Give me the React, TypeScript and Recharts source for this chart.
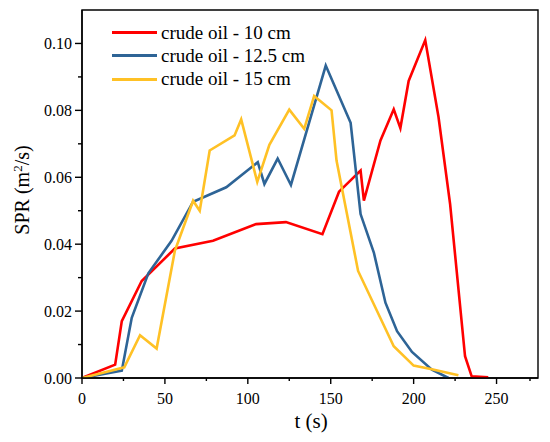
import { LineChart, Line, XAxis, YAxis, ReferenceArea } from 'recharts';

// spreading rate vs time
const oil10 = [
  { t: 0, spr: 0 }, { t: 20, spr: 0.004 }, { t: 24, spr: 0.017 }, { t: 36, spr: 0.029 },
  { t: 56, spr: 0.0387 }, { t: 79, spr: 0.041 }, { t: 105, spr: 0.046 }, { t: 123, spr: 0.0466 },
  { t: 145, spr: 0.043 }, { t: 155, spr: 0.0557 }, { t: 168, spr: 0.062 }, { t: 170, spr: 0.053 },
  { t: 180, spr: 0.071 }, { t: 188, spr: 0.0803 }, { t: 192, spr: 0.0747 }, { t: 197, spr: 0.0888 },
  { t: 207, spr: 0.101 }, { t: 215, spr: 0.078 }, { t: 222, spr: 0.052 }, { t: 231, spr: 0.0065 },
  { t: 235, spr: 0.0005 }, { t: 245, spr: 0.0002 },
];

const oil125 = [
  { t: 0, spr: 0 }, { t: 24, spr: 0.0022 }, { t: 30, spr: 0.018 }, { t: 40, spr: 0.0313 },
  { t: 54, spr: 0.041 }, { t: 67, spr: 0.0527 }, { t: 87, spr: 0.057 }, { t: 106, spr: 0.0645 },
  { t: 110, spr: 0.058 }, { t: 118, spr: 0.0656 }, { t: 126, spr: 0.0577 }, { t: 147, spr: 0.0934 },
  { t: 162, spr: 0.0763 }, { t: 168, spr: 0.049 }, { t: 176, spr: 0.0375 }, { t: 183, spr: 0.0225 },
  { t: 190, spr: 0.014 }, { t: 199, spr: 0.0078 }, { t: 211, spr: 0.0025 }, { t: 221, spr: 0 },
];

const oil15 = [
  { t: 0, spr: 0 }, { t: 25.5, spr: 0.0032 }, { t: 35, spr: 0.0128 }, { t: 45, spr: 0.0088 },
  { t: 56, spr: 0.038 }, { t: 67, spr: 0.053 }, { t: 71, spr: 0.05 }, { t: 77, spr: 0.068 },
  { t: 92, spr: 0.0725 }, { t: 96, spr: 0.0773 }, { t: 105.7, spr: 0.0586 }, { t: 113, spr: 0.0697 },
  { t: 125, spr: 0.0802 }, { t: 134, spr: 0.0745 }, { t: 140, spr: 0.0843 }, { t: 150.5, spr: 0.08 },
  { t: 153.5, spr: 0.065 }, { t: 166.5, spr: 0.032 }, { t: 188, spr: 0.0095 }, { t: 200, spr: 0.0037 },
  { t: 211, spr: 0.0026 }, { t: 227, spr: 0.0008 },
];

const series = [
  { name: 'crude oil - 10 cm', data: oil10, color: '#ff0000' },
  { name: 'crude oil - 12.5 cm', data: oil125, color: '#2e6496' },
  { name: 'crude oil - 15 cm', data: oil15, color: '#ffc125' },
];

const xTicks = [0, 25, 50, 75, 100, 125, 150, 175, 200, 225, 250, 275];
const yTicks = [0, 0.01, 0.02, 0.03, 0.04, 0.05, 0.06, 0.07, 0.08, 0.09, 0.1, 0.11];

const FONT = 'Liberation Serif, Times New Roman, serif';

const XTick = (props: any) => {
  const { x, y, payload } = props;
  const major = payload.value % 50 === 0;
  return (
    <g>
      <line x1={x} x2={x} y1={y} y2={y + (major ? 6 : 3)} stroke="#000" strokeWidth={1.4} />
      {major && (
        <text x={x} y={y + 26} textAnchor="middle" fontFamily={FONT} fontSize={16} fill="#000">
          {payload.value}
        </text>
      )}
    </g>
  );
};

const YTick = (props: any) => {
  const { x, y, payload } = props;
  const major = Math.round(payload.value * 100) % 2 === 0;
  if (payload.value > 0.105) return null;
  return (
    <g>
      <line x1={x} x2={x - (major ? 7 : 4)} y1={y} y2={y} stroke="#000" strokeWidth={1.4} />
      {major && (
        <text x={x - 10} y={y + 5.5} textAnchor="end" fontFamily={FONT} fontSize={16} fill="#000">
          {payload.value.toFixed(2)}
        </text>
      )}
    </g>
  );
};

export default function App() {
  return (
    <div style={{ position: 'relative', width: 534, height: 426 }}>
      <LineChart width={534} height={426} margin={{ top: 2, right: 4, bottom: 0, left: 0 }} style={{ overflow: 'visible' }}>
        <XAxis
          type="number"
          dataKey="t"
          domain={[0, 275]}
          ticks={xTicks}
          tick={<XTick />}
          tickSize={0}
          tickMargin={0}
          tickLine={false}
          height={56}
          stroke="#000"
          strokeWidth={1.4}
          allowDataOverflow
          label={{
            content: () => (
              <text x={303} y={420} textAnchor="middle" fontFamily={FONT} fontSize={21} fill="#000">
                t (s)
              </text>
            ),
          }}
        />
        <YAxis
          type="number"
          dataKey="spr"
          domain={[0, 0.11]}
          ticks={yTicks}
          tick={<YTick />}
          tickSize={0}
          tickMargin={0}
          tickLine={false}
          width={74}
          stroke="#000"
          strokeWidth={1.4}
          allowDataOverflow
          label={{
            content: () => (
              <text x={21} y={182} transform="rotate(-90 21 182)" textAnchor="middle" fontFamily={FONT} fontSize={20} fill="#000">
                SPR (m<tspan dy={-7} fontSize={13}>2</tspan><tspan dy={7}>/s)</tspan>
              </text>
            ),
          }}
        />
        <ReferenceArea x1={0} x2={275} y1={0} y2={0.11} fill="none" stroke="#000" strokeWidth={1.4} ifOverflow="visible" />
        {series.map((s) => (
          <Line
            key={s.name}
            data={s.data}
            dataKey="spr"
            name={s.name}
            stroke={s.color}
            strokeWidth={2.6}
            dot={false}
            isAnimationActive={false}
          />
        ))}
      </LineChart>
      <div style={{ position: 'absolute', top: 13, left: 104, fontFamily: FONT, fontSize: 19, color: '#000' }}>
        {series.map((s) => (
          <div key={s.name} style={{ display: 'flex', alignItems: 'center', height: 23.3, whiteSpace: 'nowrap' }}>
            <span style={{ display: 'inline-block', width: 45, height: 3, background: s.color, marginRight: 4 }} />
            {s.name}
          </div>
        ))}
      </div>
    </div>
  );
}
